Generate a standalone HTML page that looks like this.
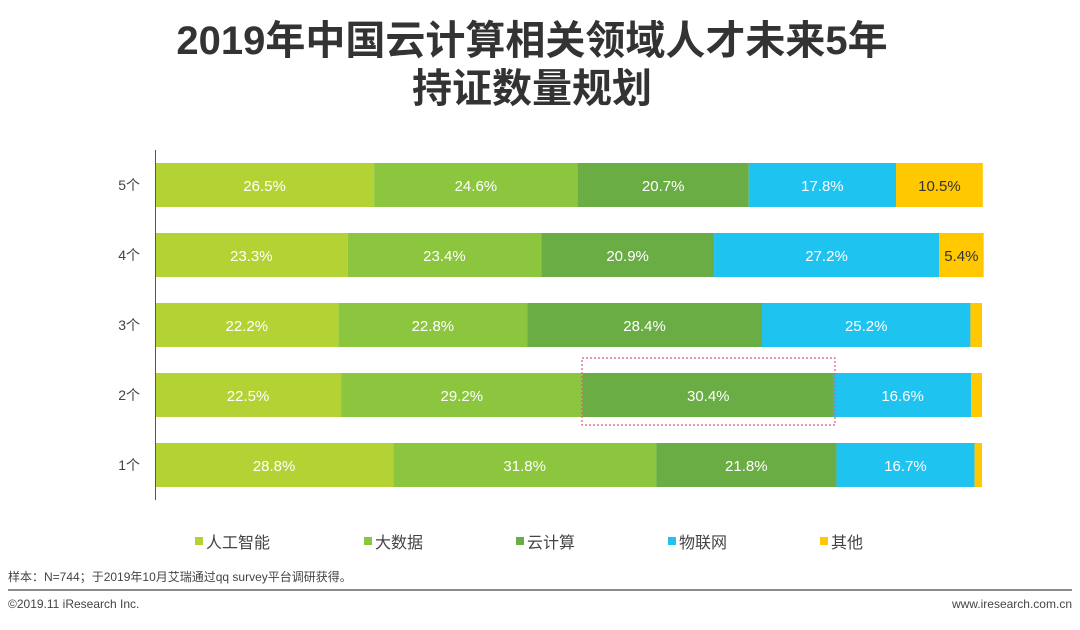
<!DOCTYPE html>
<html><head><meta charset="utf-8"><style>
body{margin:0;width:1080px;height:625px;background:#fff;overflow:hidden;font-family:"Liberation Sans","Noto Sans CJK SC",sans-serif;}
</style></head><body>
<svg width="1080" height="625" xmlns="http://www.w3.org/2000/svg">
<text x="532" y="54" text-anchor="middle" font-size="40" font-weight="bold" fill="#333" font-family="Liberation Sans,Noto Sans CJK SC,sans-serif">2019年中国云计算相关领域人才未来5年</text>
<text x="532" y="102" text-anchor="middle" font-size="40" font-weight="bold" fill="#333" font-family="Liberation Sans,Noto Sans CJK SC,sans-serif">持证数量规划</text>
<g id="bars"></g>
<line x1="155.5" y1="150" x2="155.5" y2="500" stroke="#555" stroke-width="1"/>
<rect x="582" y="358" width="253" height="67" fill="none" stroke="#e05a7a" stroke-width="1.2" stroke-dasharray="2,2"/>
<g id="legend"></g>
<text x="8" y="581" font-size="12" fill="#444" font-family="Liberation Sans,Noto Sans CJK SC,sans-serif">样本：N=744；于2019年10月艾瑞通过qq survey平台调研获得。</text>
<line x1="8" y1="590" x2="1072" y2="590" stroke="#666" stroke-width="1.5"/>
<text x="8" y="608" font-size="12" fill="#444">©2019.11 iResearch Inc.</text>
<text x="1072" y="608" font-size="12" fill="#444" text-anchor="end">www.iresearch.com.cn</text>
</svg>
<script>
const categories=["5个","4个","3个","2个","1个"];
const seriesNames=["人工智能","大数据","云计算","物联网","其他"];
const ai=[26.5,23.3,22.2,22.5,28.8];
const bigdata=[24.6,23.4,22.8,29.2,31.8];
const cloud=[20.7,20.9,28.4,30.4,21.8];
const iot=[17.8,27.2,25.2,16.6,16.7];
const other=[10.5,5.4,1.4,1.3,0.9];
const series=[ai,bigdata,cloud,iot,other];
const colors=["#b3d334","#8cc63f","#6aad45","#1fc3f0","#ffc800"];
const ns="http://www.w3.org/2000/svg";
const x0=155,pxPer=8.27;
function xs(v){return x0+v*pxPer;}
function yc(i){return 185+i*70;}
const g=document.getElementById('bars');
categories.forEach((c,i)=>{
  const t=document.createElementNS(ns,'text');
  t.setAttribute('x',140);t.setAttribute('y',yc(i)+5);t.setAttribute('text-anchor','end');
  t.setAttribute('font-size','14');t.setAttribute('fill','#444');
  
  
  t.textContent=c;g.appendChild(t);
  let acc=0;
  series.forEach((s,k)=>{
    const v=s[i];
    const r=document.createElementNS(ns,'rect');
    r.setAttribute('x',xs(acc));r.setAttribute('y',yc(i)-22);
    r.setAttribute('width',v*pxPer);r.setAttribute('height',44);
    r.setAttribute('fill',colors[k]);
    
    
    g.appendChild(r);
    if(v>=3){
      const l=document.createElementNS(ns,'text');
      l.setAttribute('x',xs(acc+v/2));l.setAttribute('y',yc(i)+6);
      l.setAttribute('text-anchor','middle');l.setAttribute('font-size','15');
      l.setAttribute('fill',k==4?'#333':'#fff');
      
      
      l.textContent=v.toFixed(1)+'%';g.appendChild(l);
    }
    acc+=v;
  });
});
const lg=document.getElementById('legend');
const lx=[195,364,516,668,820];
seriesNames.forEach((n,k)=>{
  const r=document.createElementNS(ns,'rect');
  r.setAttribute('x',lx[k]);r.setAttribute('y',537);r.setAttribute('width',8);r.setAttribute('height',8);
  r.setAttribute('fill',colors[k]);
  
  
  lg.appendChild(r);
  const t=document.createElementNS(ns,'text');
  t.setAttribute('x',lx[k]+11);t.setAttribute('y',548);t.setAttribute('font-size','16');t.setAttribute('fill','#444');
  
  
  t.textContent=n;lg.appendChild(t);
});
</script>
</body></html>
